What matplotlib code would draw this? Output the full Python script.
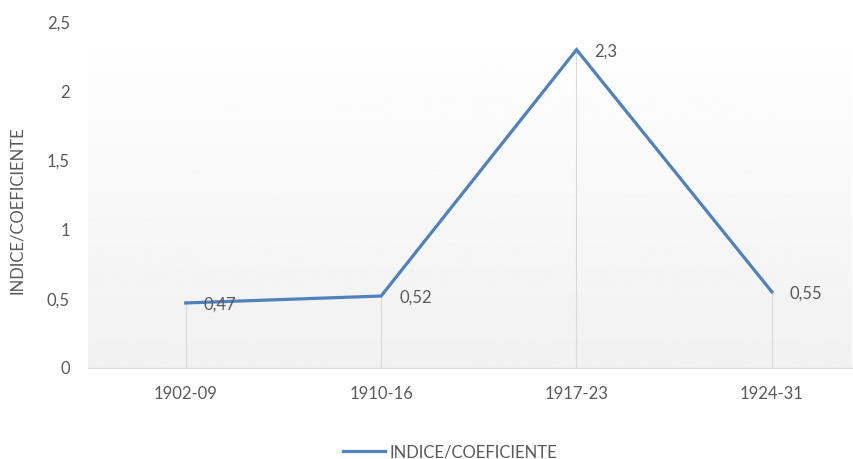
import numpy as np
import matplotlib.pyplot as plt

# Data
periods = ["1902-09", "1910-16", "1917-23", "1924-31"]
values = [0.47, 0.52, 2.3, 0.55]
labels = ["0,47", "0,52", "2,3", "0,55"]
yticks = [0, 0.5, 1, 1.5, 2, 2.5]
ytick_labels = ["0", "0,5", "1", "1,5", "2", "2,5"]
series_name = "INDICE/COEFICIENTE"

plt.rcParams['font.family'] = ['Lato', 'DejaVu Sans']
txt = '#595959'

fig = plt.figure(figsize=(8.54, 4.59), dpi=100)
ax = fig.add_axes([88/854, 1 - 368/459, 764/854, 346/459])

x = np.arange(len(periods))
ax.set_xlim(-0.5, 3.41)
ax.set_ylim(0, 2.5)

# gradient background
grad = np.linspace(1.0, 0.945, 256).reshape(-1, 1)
ax.imshow(grad, cmap='gray', vmin=0, vmax=1, aspect='auto',
          extent=[-0.5, 3.41, 0, 2.5], origin='upper', zorder=0)

# drop lines
ax.vlines(x, 0, values, color='#d9d9d9', linewidth=0.8, zorder=1)

ax.plot(x, values, color='#4f81bd', linewidth=2.3, label=series_name,
        solid_joinstyle='miter', zorder=3)

for xi, v, lab in zip(x, values, labels):
    ax.annotate(lab, (xi, v), xytext=(18, -2), textcoords='offset pixels',
                ha='left', va='center', fontsize=12, color=txt, zorder=4)

ax.set_xticks(x)
ax.set_xticklabels(periods, fontsize=12, color=txt)
ax.set_yticks(yticks)
ax.set_yticklabels(ytick_labels, fontsize=12, color=txt)
ax.tick_params(axis='x', length=0, pad=13)
ax.tick_params(axis='y', length=0, pad=13)

for s in ['top', 'right', 'left']:
    ax.spines[s].set_visible(False)
ax.spines['bottom'].set_color('#d9d9d9')

fig.text(17/854, 1 - 210/459, series_name, rotation=90, ha='center', va='center',
         fontsize=12, color=txt)

fig.legend(loc='center', bbox_to_anchor=(450/854, 1 - 452/459), frameon=False,
           fontsize=12, labelcolor=txt, handlelength=2.5, handletextpad=0.25)

fig.savefig('out.png', dpi=100)
